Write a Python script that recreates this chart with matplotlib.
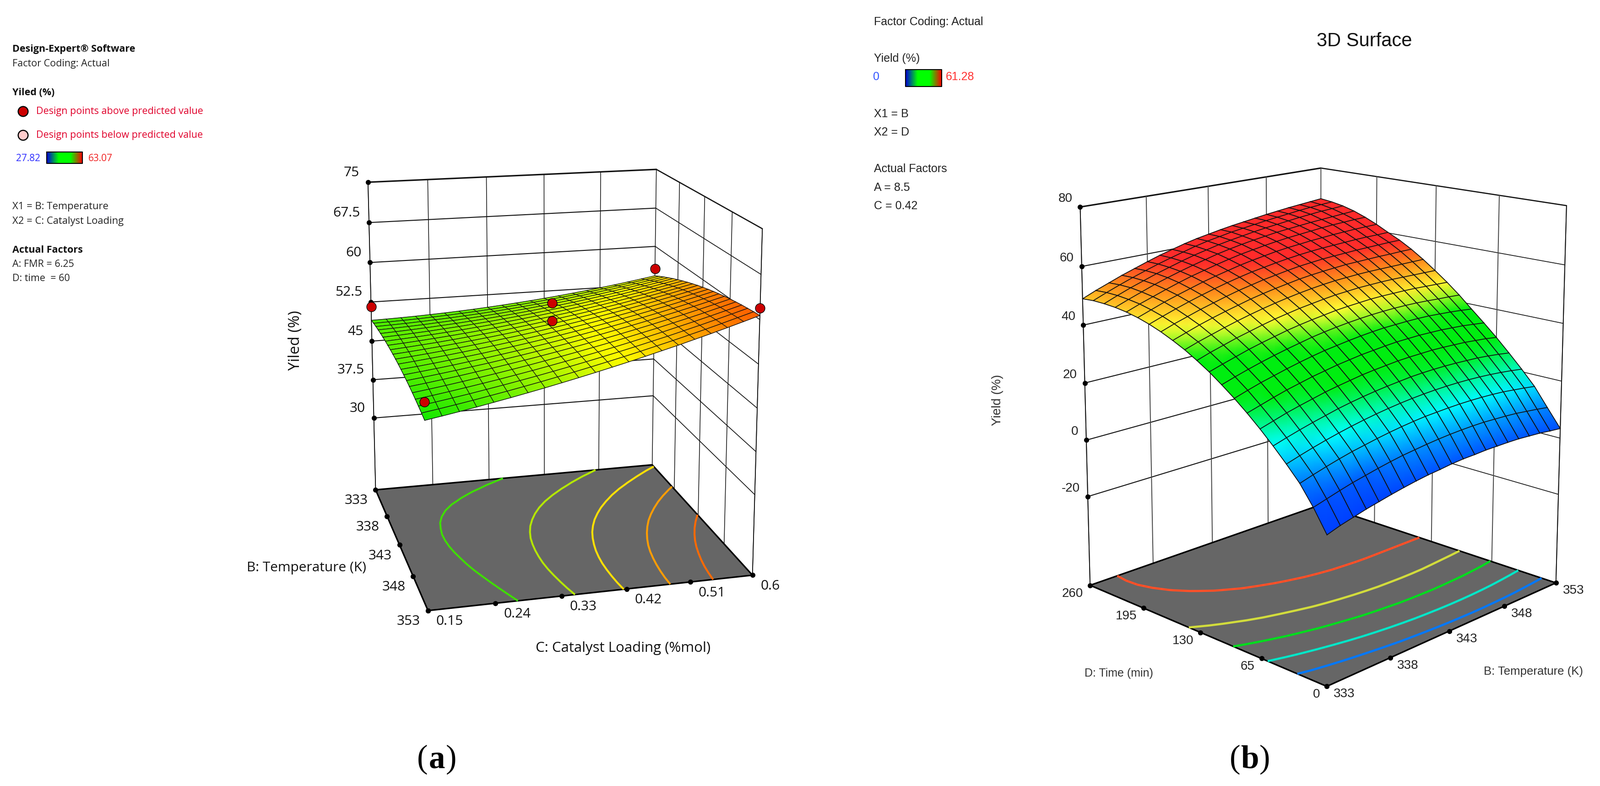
import numpy as np
import matplotlib
matplotlib.use("Agg")
from matplotlib import pyplot as plt
from matplotlib.colors import LinearSegmentedColormap, Normalize

# ---- panel (a) data ----
temp_a = [333, 334, 335, 336, 337, 338, 339, 340, 341, 342, 343, 344, 345, 346, 347, 348, 349, 350, 351, 352, 353]
cat_a = [0.15, 0.1725, 0.195, 0.2175, 0.24, 0.2625, 0.285, 0.3075, 0.33, 0.3525, 0.375, 0.3975, 0.42, 0.4425, 0.465, 0.4875, 0.51, 0.5325, 0.555, 0.5775, 0.6]
# rows follow temp_a, columns follow cat_a
yield_a = [
    [49.00,49.06,49.14,49.24,49.37,49.51,49.68,49.86,50.07,50.30,50.55,50.82,51.11,51.42,51.76,52.11,52.49,52.88,53.30,53.74,54.20],
    [49.16,49.24,49.34,49.46,49.61,49.77,49.96,50.16,50.39,50.64,50.91,51.20,51.51,51.84,52.20,52.57,52.97,53.38,53.82,54.28,54.75],
    [49.28,49.38,49.50,49.65,49.82,50.00,50.21,50.43,50.68,50.95,51.24,51.55,51.88,52.23,52.61,53.00,53.42,53.85,54.30,54.78,55.28],
    [49.39,49.51,49.65,49.81,50.01,50.21,50.44,50.68,50.95,51.24,51.55,51.88,52.23,52.60,53.00,53.41,53.85,54.29,54.77,55.27,55.78],
    [49.47,49.61,49.78,49.96,50.18,50.40,50.65,50.91,51.20,51.51,51.84,52.19,52.56,52.95,53.37,53.80,54.25,54.72,55.22,55.73,56.27],
    [49.53,49.69,49.88,50.08,50.32,50.56,50.83,51.11,51.43,51.76,52.11,52.48,52.86,53.27,53.71,54.16,54.63,55.12,55.63,56.17,56.72],
    [49.56,49.75,49.95,50.18,50.43,50.70,50.99,51.29,51.63,51.98,52.35,52.74,53.14,53.57,54.03,54.49,54.99,55.50,56.03,56.58,57.15],
    [49.57,49.77,50.00,50.25,50.52,50.81,51.12,51.44,51.80,52.17,52.56,52.97,53.39,53.84,54.32,54.80,55.32,55.84,56.40,56.97,57.56],
    [49.55,49.78,50.03,50.29,50.59,50.90,51.23,51.57,51.95,52.34,52.75,53.18,53.62,54.09,54.59,55.09,55.63,56.17,56.74,57.33,57.94],
    [49.52,49.76,50.03,50.32,50.64,50.97,51.32,51.69,52.08,52.49,52.92,53.37,53.84,54.33,54.84,55.36,55.92,56.48,57.07,57.68,58.31],
    [49.45,49.72,50.01,50.32,50.66,51.01,51.38,51.77,52.18,52.61,53.06,53.53,54.02,54.53,55.06,55.60,56.18,56.76,57.37,58.00,58.64],
    [49.37,49.66,49.97,50.30,50.66,51.03,51.42,51.83,52.26,52.71,53.18,53.67,54.18,54.71,55.26,55.82,56.41,57.01,57.64,58.29,58.95],
    [49.25,49.56,49.89,50.25,50.63,51.01,51.43,51.86,52.31,52.78,53.27,53.78,54.31,54.86,55.43,56.01,56.62,57.24,57.89,58.56,59.24],
    [49.12,49.45,49.80,50.17,50.58,50.98,51.42,51.87,52.34,52.83,53.34,53.87,54.42,54.99,55.58,56.18,56.81,57.45,58.12,58.80,59.50],
    [48.96,49.31,49.69,50.08,50.51,50.93,51.39,51.86,52.35,52.86,53.39,53.94,54.51,55.10,55.71,56.33,56.98,57.64,58.32,59.03,59.75],
    [48.78,49.15,49.55,49.96,50.41,50.85,51.33,51.82,52.34,52.87,53.42,53.99,54.57,55.18,55.81,56.45,57.12,57.79,58.50,59.22,59.96],
    [48.57,48.97,49.38,49.82,50.28,50.75,51.25,51.76,52.30,52.85,53.42,54.01,54.61,55.24,55.89,56.54,57.24,57.93,58.65,59.40,60.15],
    [48.34,48.75,49.19,49.65,50.13,50.62,51.14,51.67,52.23,52.80,53.39,54.00,54.62,55.27,55.94,56.61,57.33,58.04,58.78,59.54,60.32],
    [48.08,48.52,48.98,49.45,49.96,50.47,51.01,51.56,52.14,52.73,53.34,53.97,54.61,55.28,55.97,56.66,57.39,58.13,58.89,59.67,60.46],
    [47.81,48.26,48.74,49.24,49.77,50.30,50.86,51.43,52.03,52.64,53.27,53.92,54.58,55.27,55.98,56.69,57.44,58.19,58.97,59.78,60.59],
    [47.50,47.98,48.48,49.00,49.55,50.10,50.68,51.27,51.89,52.52,53.17,53.84,54.52,55.23,55.96,56.69,57.46,58.23,59.03,59.85,60.68],
]
temp_ticks_a = [333, 338, 343, 348, 353]
cat_ticks_a = [0.15, 0.24, 0.33, 0.42, 0.51, 0.6]
cat_tick_labels_a = ["0.15", "0.24", "0.33", "0.42", "0.51", "0.6"]
yield_ticks_a = [30, 37.5, 45, 52.5, 60, 67.5, 75]
yield_tick_labels_a = ["30", "37.5", "45", "52.5", "60", "67.5", "75"]
contour_levels_a = [50.3, 52.4, 54.4, 56.5, 58.6]
points_temp_a = [333, 333, 353, 353, 343, 343]
points_cat_a = [0.15, 0.6, 0.6, 0.15, 0.375, 0.375]
points_yield_a = [51.6, 55.6, 61.9, 50.5, 57.5, 54.3]

# ---- panel (b) data ----
temp_b = [333, 334, 335, 336, 337, 338, 339, 340, 341, 342, 343, 344, 345, 346, 347, 348, 349, 350, 351, 352, 353]
time_b = [0, 13, 26, 39, 52, 65, 78, 91, 104, 117, 130, 143, 156, 169, 182, 195, 208, 221, 234, 247, 260]
# rows follow temp_b, columns follow time_b
yield_b = [
    [-4.0,3.1,9.2,13.9,18.3,22.4,26.2,29.7,32.9,35.9,38.5,40.9,42.9,44.7,46.2,47.4,48.3,48.9,49.2,49.3,49.0],
    [-2.6,4.3,10.5,15.2,19.6,23.7,27.5,31.1,34.3,37.3,40.0,42.4,44.4,46.3,47.8,49.0,50.0,50.6,51.0,51.1,50.9],
    [-1.5,5.5,11.7,16.4,20.8,25.0,28.8,32.4,35.6,38.6,41.3,43.7,45.9,47.7,49.3,50.6,51.5,52.2,52.7,52.8,52.6],
    [-0.4,6.6,12.8,17.5,21.9,26.1,30.0,33.5,36.8,39.9,42.6,45.0,47.2,49.1,50.7,52.0,53.0,53.8,54.2,54.4,54.3],
    [0.5,7.5,13.8,18.5,22.9,27.1,31.0,34.6,37.9,41.0,43.7,46.2,48.4,50.3,52.0,53.3,54.4,55.2,55.7,55.9,55.8],
    [1.4,8.4,14.6,19.4,23.9,28.1,32.0,35.6,38.9,42.0,44.8,47.3,49.5,51.5,53.2,54.6,55.7,56.5,57.0,57.3,57.3],
    [2.2,9.2,15.4,20.2,24.7,28.9,32.8,36.5,39.8,43.0,45.8,48.3,50.6,52.6,54.3,55.7,56.8,57.7,58.3,58.6,58.7],
    [2.9,9.9,16.1,20.9,25.4,29.6,33.6,37.3,40.7,43.8,46.6,49.2,51.5,53.5,55.3,56.7,57.9,58.8,59.5,59.8,59.9],
    [3.5,10.4,16.7,21.5,26.0,30.3,34.2,37.9,41.4,44.5,47.4,50.0,52.3,54.4,56.2,57.7,58.9,59.9,60.5,61.0,61.1],
    [3.9,10.9,17.2,22.0,26.5,30.8,34.8,38.5,42.0,45.1,48.0,50.7,53.0,55.1,56.9,58.5,59.8,60.8,61.5,62.0,62.1],
    [4.4,11.3,17.6,22.4,26.9,31.2,35.2,39.0,42.5,45.7,48.6,51.3,53.7,55.8,57.6,59.2,60.5,61.6,62.3,62.8,62.9],
    [4.7,11.6,17.8,22.7,27.3,31.6,35.6,39.4,42.9,46.1,49.1,51.8,54.2,56.4,58.2,59.9,61.2,62.3,63.0,63.6,63.7],
    [4.8,11.8,18.0,22.9,27.5,31.8,35.9,39.7,43.2,46.4,49.4,52.2,54.6,56.8,58.7,60.4,61.8,62.9,63.7,64.2,64.4],
    [5.0,11.9,18.1,23.0,27.6,31.9,36.0,39.8,43.4,46.7,49.7,52.4,54.9,57.2,59.1,60.8,62.3,63.5,64.3,64.8,65.0],
    [5.0,11.9,18.1,23.0,27.6,32.0,36.1,39.9,43.5,46.8,49.8,52.6,55.2,57.4,59.4,61.2,62.7,63.9,64.8,65.4,65.6],
    [5.0,11.7,18.0,22.9,27.5,31.9,36.0,39.9,43.5,46.8,49.9,52.7,55.3,57.6,59.6,61.5,63.1,64.3,65.3,65.9,66.2],
    [4.9,11.5,17.8,22.7,27.3,31.7,35.9,39.8,43.4,46.8,49.9,52.7,55.4,57.8,59.8,61.8,63.5,64.7,65.8,66.4,66.7],
    [4.6,11.2,17.5,22.4,27.1,31.5,35.6,39.5,43.2,46.7,49.8,52.7,55.5,57.9,60.0,62.0,63.8,65.0,66.2,66.9,67.2],
    [4.3,10.7,17.0,22.0,26.7,31.1,35.3,39.2,42.9,46.5,49.7,52.7,55.5,58.0,60.1,62.2,64.0,65.3,66.6,67.3,67.6],
    [3.8,10.2,16.5,21.5,26.2,30.7,34.8,38.8,42.7,46.3,49.6,52.7,55.6,58.1,60.1,62.3,64.2,65.6,66.8,67.6,68.0],
    [3.4,9.6,15.9,20.9,25.6,30.1,34.3,38.3,42.4,46.1,49.5,52.7,55.6,58.1,60.2,62.4,64.3,65.9,67.1,67.9,68.4],
]
temp_ticks_b = [333, 338, 343, 348, 353]
time_ticks_b = [0, 65, 130, 195, 260]
yield_ticks_b = [-20, 0, 20, 40, 60, 80]
contour_levels_b = [10.2, 20.4, 30.6, 40.9, 52.8]

# camera calibration: box corners (x, y, z) and where they land in the picture
floor_a = 15.7
world_a = [(333, .15, 75), (333, .15, 30), (333, .15, floor_a), (333, .6, 75), (333, .6, 30), (333, .6, floor_a),
           (353, .6, 75), (353, .6, floor_a), (353, .15, floor_a)]
pixel_a = [(803, 399), (816, 910), (821, 1072), (1434, 371), (1427, 862), (1425, 1017),
           (1666, 499), (1642, 1257), (936, 1334)]
floor_b = -52
world_b = [(333, 260, 80), (333, 260, -20), (333, 260, floor_b), (353, 260, 80), (353, 260, floor_b),
           (353, 0, 80), (353, 0, -20), (353, 0, floor_b), (333, 0, floor_b)]
pixel_b = [(2359, 454), (2376, 1080), (2382, 1280), (2884, 366), (2886, 1105),
           (3424, 451), (3404, 1075), (3397, 1275), (2898, 1501)]


def fit_camera(world, pixel):
    # plain DLT, the perspective of the Design-Expert box is recovered from its corners
    rows = []
    for (X, Y, Z), (u, v) in zip(world, pixel):
        rows.append([X, Y, Z, 1, 0, 0, 0, 0, -u * X, -u * Y, -u * Z, -u])
        rows.append([0, 0, 0, 0, X, Y, Z, 1, -v * X, -v * Y, -v * Z, -v])
    rows = np.array(rows, dtype=float)
    scale = np.abs(rows).max(axis=0)
    _, _, vt = np.linalg.svd(rows / scale)
    return (vt[-1] / scale).reshape(3, 4)


def project(cam, x, y, z):
    x, y, z = np.broadcast_arrays(np.asarray(x, float), np.asarray(y, float), np.asarray(z, float))
    w = cam[2, 0] * x + cam[2, 1] * y + cam[2, 2] * z + cam[2, 3]
    px = (cam[0, 0] * x + cam[0, 1] * y + cam[0, 2] * z + cam[0, 3]) / w
    py = (cam[1, 0] * x + cam[1, 1] * y + cam[1, 2] * z + cam[1, 3]) / w
    return px, py


def line3d(ax, cam, p0, p1, lw, zorder=2, color="#111111"):
    px, py = project(cam, [p0[0], p1[0]], [p0[1], p1[1]], [p0[2], p1[2]])
    ax.plot(px, py, color=color, lw=lw, zorder=zorder, solid_capstyle="round")


def draw_box(ax, cam, left, back, right, front, x_ticks, y_ticks, z_ticks, z_floor, vcolor="#111111", vlw=1.1):
    z_top = z_ticks[-1]
    for z in z_ticks:
        lw = 2.3 if z == z_top else 1.5
        line3d(ax, cam, (*left, z), (*back, z), lw)
        line3d(ax, cam, (*back, z), (*right, z), lw * 0.8)
    for x in x_ticks:
        for y in y_ticks:
            if x == back[0] or y == back[1]:
                line3d(ax, cam, (x, y, z_floor), (x, y, z_top), vlw, color=vcolor)
    line3d(ax, cam, (*left, z_floor), (*left, z_top), 1.3)
    line3d(ax, cam, (*right, z_floor), (*right, z_top), 1.3)
    # floor
    fx, fy = project(cam, [left[0], back[0], right[0], front[0]], [left[1], back[1], right[1], front[1]], z_floor)
    ax.fill(fx, fy, facecolor="#666666", edgecolor="black", lw=2.4, zorder=3, joinstyle="round")
    px, py = project(cam, left[0], left[1], z_ticks)
    ax.plot(px, py, "o", color="black", ms=7, zorder=4, ls="none")


def draw_surface(ax, cam, x, y, z, cmap, norm, flip_x, flip_y, lw, zstart=10):
    xx, yy = np.meshgrid(x, y, indexing="ij")
    z = np.array(z, dtype=float)
    px, py = project(cam, xx, yy, z)
    if flip_x:
        px, py, z = px[::-1], py[::-1], z[::-1]
    if flip_y:
        px, py, z = px[:, ::-1], py[:, ::-1], z[:, ::-1]
    # far rows first so that the near rows paint over them
    for i in range(z.shape[0] - 1):
        order = zstart + i
        ax.pcolormesh(px[i:i + 2], py[i:i + 2], z[i:i + 2], shading="gouraud", cmap=cmap, norm=norm, zorder=order)
        ax.plot(px[i:i + 2], py[i:i + 2], color="#111111", lw=lw, zorder=order + 0.5)
        ax.plot(px[i:i + 2].T, py[i:i + 2].T, color="#111111", lw=lw, zorder=order + 0.5)


def colour_bar(ax, x0, x1, y0, y1):
    bar = LinearSegmentedColormap.from_list("bar", ["#0000d8", "#00ff00", "#00ff00", "#ff0000"])
    ax.imshow(np.linspace(0, 1, 128)[None, :], extent=(x0, x1, y1, y0), cmap=bar, aspect="auto", zorder=2)
    ax.plot([x0, x1, x1, x0, x0], [y0, y0, y1, y1, y0], color="black", lw=1.5, zorder=3)


def caption(ax, x, base, letter, half):
    font = dict(family="Liberation Serif", fontsize=51, va="baseline", color="black")
    ax.text(x, base, letter, ha="center", fontweight="bold", **font)
    ax.text(x - half, base, "(", ha="right", **font)
    ax.text(x + half, base, ")", ha="left", **font)


fig = plt.figure(figsize=(34.95, 17.17), dpi=100, facecolor="white")
ax = fig.add_axes([0, 0, 1, 1])
ax.axis("off")

# ---------------- panel (a) ----------------
sans = "Open Sans"
cam_a = fit_camera(world_a, pixel_a)
cmap_a = LinearSegmentedColormap.from_list("yield_a", [(0, "#0000ff"), (.25, "#00ffff"), (.544, "#00e600"), (.754, "#ffff00"), (.857, "#ff9900"), (1, "#ff2a00")])
norm_a = Normalize(27.82, 63.07)

draw_box(ax, cam_a, (333, .15), (333, .6), (353, .6), (353, .15), temp_ticks_a, cat_ticks_a, yield_ticks_a, floor_a)

xx, yy = np.meshgrid(temp_a, cat_a, indexing="ij")
fx, fy = project(cam_a, xx, yy, floor_a)
ax.contour(fx, fy, np.array(yield_a), levels=contour_levels_a, colors=["#3fdc00", "#b4e600", "#ffe000", "#ff9d00", "#ff6a00"], linewidths=3.0, zorder=5)
draw_surface(ax, cam_a, temp_a, cat_a, yield_a, cmap_a, norm_a, False, True, 1.0)

px, py = project(cam_a, points_temp_a, points_cat_a, points_yield_a)
ax.plot(px, py, "o", ms=15, mfc="#cc0000", mec="black", mew=1.0, ls="none", zorder=60)

# tick dots and labels on the floor edges
px, py = project(cam_a, temp_ticks_a, .15, floor_a)
ax.plot(px, py, "o", color="black", ms=7, ls="none", zorder=6)
for t, x, y in zip(temp_ticks_a, px, py):
    ax.text(x - 17, y + 24, str(t), ha="right", va="center", family=sans, fontsize=21.5, color="#111111")
px, py = project(cam_a, 353, cat_ticks_a, floor_a)
ax.plot(px, py, "o", color="black", ms=7, ls="none", zorder=6)
for t, x, y in zip(cat_tick_labels_a, px, py):
    ax.text(x + 18, y + 24, t, ha="left", va="center", family=sans, fontsize=21.5, color="#111111")
px, py = project(cam_a, 333, .15, yield_ticks_a)
for t, x, y in zip(yield_tick_labels_a, px, py):
    ax.text(x - 19, y - 21, t, ha="right", va="center", family=sans, fontsize=21.5, color="#111111")

ax.text(645, 744, "Yiled (%)", rotation=90, ha="center", va="center", family=sans, fontsize=24, color="#111111")
ax.text(800, 1240, "B: Temperature (K)", ha="right", va="center", family=sans, fontsize=21.5, color="#111111")
ax.text(1361, 1416, "C: Catalyst Loading (%mol)", ha="center", va="center", family=sans, fontsize=22.5, color="#111111")

# legend text of (a)
ax.text(27, 108, "Design-Expert® Software", fontweight="bold", va="center", family=sans, fontsize=15.5, color="#111111")
ax.text(27, 140, "Factor Coding: Actual", va="center", family=sans, fontsize=15.5, color="#222222")
ax.text(27, 202, "Yiled (%)", fontweight="bold", va="center", family=sans, fontsize=15.5, color="#111111")
ax.plot([50], [243], "o", ms=15.5, mfc="#cc0000", mec="black", mew=1.8, zorder=3)
ax.plot([50], [295], "o", ms=15.5, mfc="#ffcccc", mec="black", mew=1.8, zorder=3)
ax.text(79, 244, "Design points above predicted value", va="center", family=sans, fontsize=15.5, color="#e0002a")
ax.text(79, 296, "Design points below predicted value", va="center", family=sans, fontsize=15.5, color="#e0002a")
ax.text(35, 347, "27.82", va="center", family=sans, fontsize=15, color="#2a2aff")
colour_bar(ax, 102, 180, 332, 357)
ax.text(193, 347, "63.07", va="center", family=sans, fontsize=15, color="#f02020")
ax.text(27, 451, "X1 = B: Temperature", va="center", family=sans, fontsize=15.8, color="#222222")
ax.text(27, 483, "X2 = C: Catalyst Loading", va="center", family=sans, fontsize=15.8, color="#222222")
ax.text(27, 546, "Actual Factors", fontweight="bold", va="center", family=sans, fontsize=15.5, color="#111111")
ax.text(27, 577, "A: FMR = 6.25", va="center", family=sans, fontsize=15.5, color="#222222")
ax.text(27, 608, "D: time  = 60", va="center", family=sans, fontsize=15.5, color="#222222")
caption(ax, 954, 1677, "a", 20)

# ---------------- panel (b) ----------------
arial = "Liberation Sans"
cam_b = fit_camera(world_b, pixel_b)
cmap_b = LinearSegmentedColormap.from_list("yield_b", [(0, "#0040ff"), (.12, "#0060ff"), (.3, "#00ffff"), (.47, "#00ee10"), (.64, "#00ee10"), (.745, "#ffff33"), (.86, "#ff8c1a"), (.95, "#ff2a2a"), (1, "#ff2a2a")])
norm_b = Normalize(0, 61.28)

draw_box(ax, cam_b, (333, 260), (353, 260), (353, 0), (333, 0), temp_ticks_b, time_ticks_b, yield_ticks_b, floor_b, vcolor="#444444", vlw=1.4)

xx, yy = np.meshgrid(temp_b, time_b, indexing="ij")
fx, fy = project(cam_b, xx, yy, floor_b)
ax.contour(fx, fy, np.array(yield_b), levels=contour_levels_b, colors=["#0078ff", "#00e6c8", "#00dc1e", "#d2dc3c", "#ff5028"], linewidths=3.4, zorder=5)
draw_surface(ax, cam_b, temp_b, time_b, yield_b, cmap_b, norm_b, True, True, 1.3)

px, py = project(cam_b, 333, time_ticks_b, floor_b)
ax.plot(px, py, "o", color="black", ms=7, ls="none", zorder=6)
for t, x, y in zip(time_ticks_b, px, py):
    ax.text(x - 15, y + 18, str(t), ha="right", va="center", family=arial, fontsize=20, color="#222222")
px, py = project(cam_b, temp_ticks_b, 0, floor_b)
ax.plot(px, py, "o", color="black", ms=7, ls="none", zorder=6)
for t, x, y in zip(temp_ticks_b, px, py):
    ax.text(x + 15, y + 17, str(t), ha="left", va="center", family=arial, fontsize=20, color="#222222")
px, py = project(cam_b, 333, 260, yield_ticks_b)
for t, x, y in zip(yield_ticks_b, px, py):
    ax.text(x - 17, y - 18, str(t), ha="right", va="center", family=arial, fontsize=20, color="#222222")

ax.text(2179, 874, "Yield (%)", rotation=90, ha="center", va="center", family=arial, fontsize=20, color="#333333")
ax.text(2444, 1471, "D: Time (min)", ha="center", va="center", family=arial, fontsize=18, color="#333333")
ax.text(3349, 1467, "B: Temperature (K)", ha="center", va="center", family=arial, fontsize=18.5, color="#333333")
ax.text(2980, 90, "3D Surface", ha="center", va="center", family=arial, fontsize=30, color="#111111")

ax.text(1909, 48, "Factor Coding: Actual", va="center", family=arial, fontsize=18, color="#222222")
ax.text(1909, 128, "Yield (%)", va="center", family=arial, fontsize=18, color="#222222")
ax.text(1907, 168, "0", va="center", family=arial, fontsize=18, color="#3355ff")
colour_bar(ax, 1978, 2057, 152, 189)
ax.text(2066, 168, "61.28", va="center", family=arial, fontsize=18, color="#ff3333")
ax.text(1909, 249, "X1 = B", va="center", family=arial, fontsize=18, color="#222222")
ax.text(1909, 289, "X2 = D", va="center", family=arial, fontsize=18, color="#222222")
ax.text(1909, 369, "Actual Factors", va="center", family=arial, fontsize=18, color="#222222")
ax.text(1909, 410, "A = 8.5", va="center", family=arial, fontsize=18, color="#222222")
ax.text(1909, 450, "C = 0.42", va="center", family=arial, fontsize=18, color="#222222")
caption(ax, 2730, 1677, "b", 21)

ax.set_xlim(0, 3495)
ax.set_ylim(1717, 0)
fig.savefig("out.png", dpi=100, facecolor="white")
